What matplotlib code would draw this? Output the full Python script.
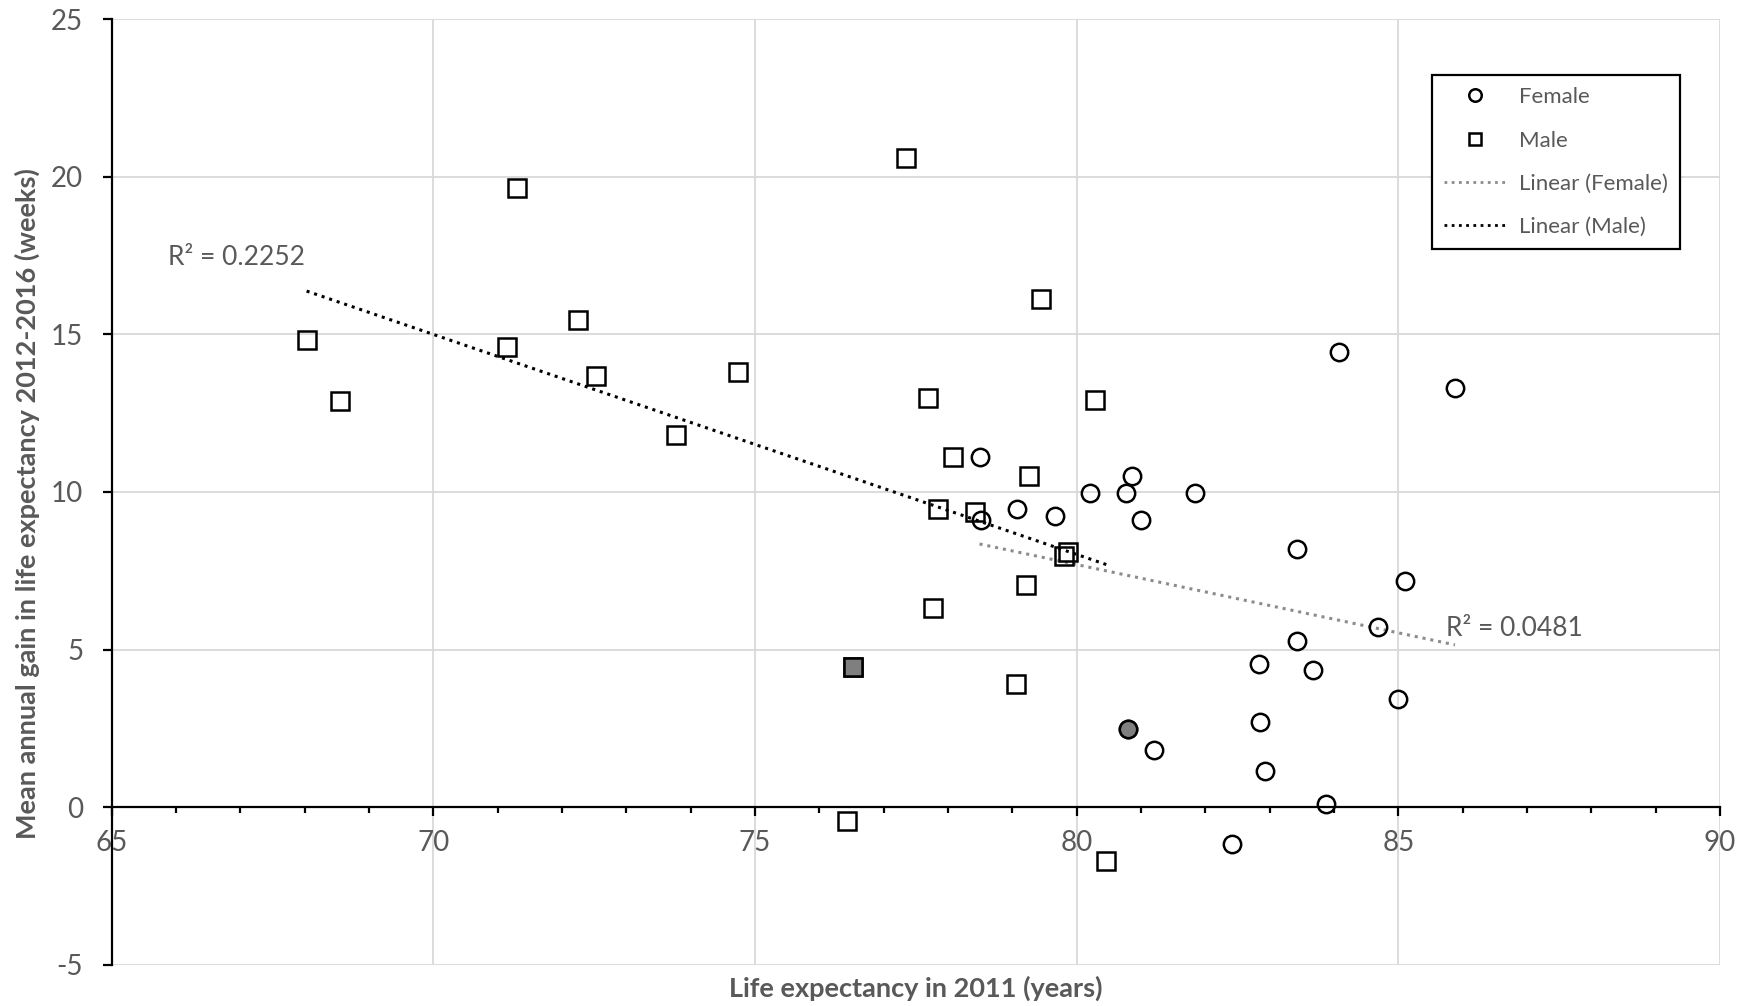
import numpy as np
import matplotlib
matplotlib.use("Agg")
import matplotlib.pyplot as plt
from matplotlib.lines import Line2D
from matplotlib.ticker import MultipleLocator

plt.rcParams['font.family'] = ['Lato', 'DejaVu Sans']
plt.rcParams['axes.unicode_minus'] = False

# life expectancy in 2011 (years) vs mean annual gain 2012-2016 (weeks)
female_x = [78.49, 78.51, 79.07, 79.67, 80.20, 80.76, 80.80, 80.86, 81.00, 81.20,
            81.84, 82.41, 82.83, 82.85, 82.93, 83.42, 83.43, 83.67, 83.87, 84.07,
            84.68, 84.99, 85.11, 85.88]
female_y = [11.11, 9.11, 9.45, 9.23, 9.97, 9.97, 2.49, 10.50, 9.12, 1.83,
            9.97, -1.16, 4.55, 2.70, 1.15, 8.20, 5.28, 4.35, 0.12, 14.43,
            5.72, 3.42, 7.18, 13.30]
female_hl = 6   # shaded point

male_x = [68.03, 68.55, 71.14, 71.30, 72.25, 72.53, 73.77, 74.73, 76.43, 76.53,
          77.35, 77.69, 77.77, 77.85, 78.07, 78.42, 79.05, 79.21, 79.26, 79.45,
          79.81, 79.86, 80.28, 80.46]
male_y = [14.83, 12.90, 14.61, 19.64, 15.47, 13.67, 11.82, 13.80, -0.44, 4.45,
          20.59, 12.97, 6.31, 9.45, 11.12, 9.36, 3.92, 7.05, 10.51, 16.11,
          7.96, 8.10, 12.91, -1.69]
male_hl = 9

r2_female = "R² = 0.0481"
r2_male = "R² = 0.2252"

TXT = '#595959'
GRID = '#d9d9d9'

fig = plt.figure(figsize=(17.42, 10.06), dpi=100)
ax = fig.add_axes([0.0641, 0.0408, 0.9233, 0.9403])
ax.set_xlim(65, 90)
ax.set_ylim(-5, 25)

# gridlines
for gx in range(70, 91, 5):
    ax.axvline(gx, color=GRID, lw=1.3, zorder=0)
for gy in range(-5, 26, 5):
    if gy != 0:
        ax.axhline(gy, color=GRID, lw=1.3, zorder=0)

for s in ['top', 'right']:
    ax.spines[s].set_visible(False)
ax.spines['bottom'].set_position(('data', 0))
ax.spines['bottom'].set_linewidth(1.6)
ax.spines['left'].set_linewidth(1.6)

ax.xaxis.set_major_locator(MultipleLocator(5))
ax.xaxis.set_minor_locator(MultipleLocator(1))
ax.yaxis.set_major_locator(MultipleLocator(5))
ax.tick_params(axis='x', which='major', direction='out', length=6.5, width=1.6,
               pad=10, labelsize=20, labelcolor=TXT)
ax.tick_params(axis='x', which='minor', direction='out', length=4.5, width=1.6)
ax.tick_params(axis='y', which='major', direction='out', length=6.5, width=1.6,
               pad=14, labelsize=20, labelcolor=TXT)

dot = (0, (1, 1.6))

# linear trendlines over each series' range
for xs, ys, col in [(female_x, female_y, '#8c8c8c'), (male_x, male_y, 'black')]:
    k, b = np.polyfit(xs, ys, 1)
    tx = np.array([min(xs), max(xs)])
    ax.plot(tx, k * tx + b, color=col, lw=2.2, linestyle=dot, zorder=2)

mk = dict(linestyle='none', markersize=12.5, markeredgewidth=1.8,
          markeredgecolor='black', zorder=3)
ax.plot(female_x, female_y, marker='o', markerfacecolor='none', **mk)
ax.plot(male_x, male_y, marker='s', markerfacecolor='none', **mk)
ax.plot(female_x[female_hl], female_y[female_hl], marker='o',
        markerfacecolor='#7f7f7f', **mk)
ax.plot(male_x[male_hl], male_y[male_hl], marker='s',
        markerfacecolor='#7f7f7f', **mk)

ax.text(65.88, 17.45, r2_male, fontsize=19, color=TXT, va='center', ha='left')
ax.text(85.74, 5.68, r2_female, fontsize=19, color=TXT, va='center', ha='left')

handles = [
    Line2D([], [], marker='o', linestyle='none', markersize=9, markeredgewidth=1.8,
           markeredgecolor='black', markerfacecolor='none'),
    Line2D([], [], marker='s', linestyle='none', markersize=9, markeredgewidth=1.8,
           markeredgecolor='black', markerfacecolor='none'),
    Line2D([], [], color='#8c8c8c', lw=2.0, linestyle=dot),
    Line2D([], [], color='black', lw=2.0, linestyle=dot),
]
leg = ax.legend(handles, ['Female', 'Male', 'Linear (Female)', 'Linear (Male)'],
                loc='upper left', bbox_to_anchor=(0.821, 0.9408), fontsize=16,
                labelcolor=TXT, frameon=True, fancybox=False, framealpha=1,
                edgecolor='black', borderpad=0.55, labelspacing=1.05,
                handlelength=2.8, handletextpad=0.55, borderaxespad=0)
leg.get_frame().set_linewidth(1.6)
leg.set_zorder(5)

fig.text(915.9 / 1742, 1 - 988 / 1006, 'Life expectancy in 2011 (years)',
         fontsize=19.5, fontweight='bold', color=TXT, ha='center', va='center')
fig.text(27 / 1742, 1 - 504 / 1006,
         'Mean annual gain in life expectancy 2012-2016 (weeks)',
         fontsize=19.5, fontweight='bold', color=TXT, ha='center', va='center',
         rotation=90)

fig.savefig('out.png', dpi=100)
